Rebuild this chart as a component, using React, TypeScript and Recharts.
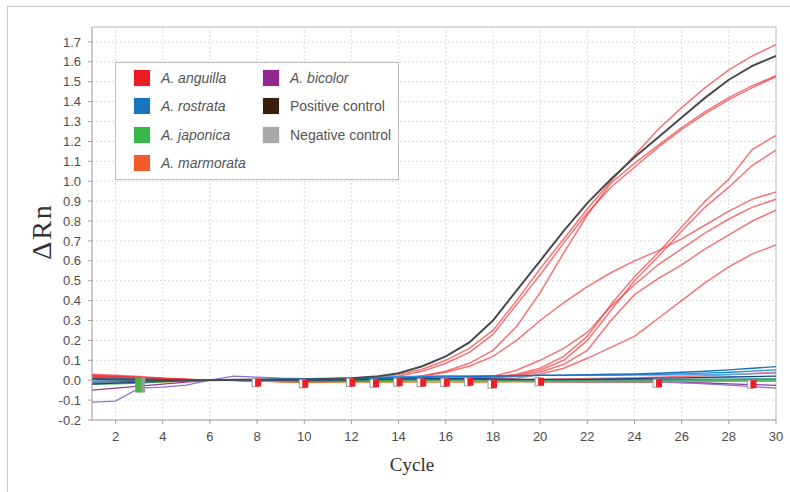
import React from 'react';
import { ComposedChart, Line, Scatter, XAxis, YAxis, CartesianGrid, ReferenceLine, Label } from 'recharts';

const cycles = [1, 2, 3, 4, 5, 6, 7, 8, 9, 10, 11, 12, 13, 14, 15, 16, 17, 18, 19, 20, 21, 22, 23, 24, 25, 26, 27, 28, 29, 30];
const xTicks = [2, 4, 6, 8, 10, 12, 14, 16, 18, 20, 22, 24, 26, 28, 30];
const yTicks = [-0.2, -0.1, 0, 0.1, 0.2, 0.3, 0.4, 0.5, 0.6, 0.7, 0.8, 0.9, 1.0, 1.1, 1.2, 1.3, 1.4, 1.5, 1.6, 1.7];
const Y_MIN = -0.2;
const Y_MAX = 1.775;

// positive control (dark curve)
const positiveControl = [
  0.006, 0.004, 0.002, 0.001, 0, 0, 0.002, 0.002, 0.003, 0.004,
  0.006, 0.01, 0.018, 0.035, 0.07, 0.12, 0.19, 0.3, 0.45, 0.6,
  0.75, 0.89, 1.01, 1.12, 1.22, 1.32, 1.42, 1.51, 1.58, 1.63,
];

// A. anguilla wells
const anguillaA = [
  0.02, 0.018, 0.012, 0.008, 0.004, 0, 0.002, 0.003, 0.004, 0.003,
  0.005, 0.008, 0.014, 0.028, 0.055, 0.1, 0.16, 0.25, 0.4, 0.56,
  0.71, 0.86, 1.0, 1.13, 1.26, 1.37, 1.47, 1.56, 1.63, 1.686,
];
const anguillaB = [
  0.03, 0.025, 0.018, 0.01, 0.005, 0, 0, -0.004, -0.006, -0.01,
  -0.006, 0, 0.008, 0.02, 0.045, 0.085, 0.14, 0.23, 0.38, 0.53,
  0.69, 0.84, 0.97, 1.07, 1.17, 1.26, 1.34, 1.41, 1.47, 1.526,
];
const anguillaC = [
  0.015, 0.012, 0.01, 0.006, 0.002, 0, 0, -0.003, -0.005, -0.008,
  -0.005, 0, 0.004, 0.01, 0.022, 0.045, 0.085, 0.15, 0.27, 0.44,
  0.64, 0.83, 0.99, 1.09, 1.18, 1.27, 1.35, 1.42, 1.48, 1.53,
];
const anguillaD = [
  0.01, 0.01, 0.008, 0.005, 0.002, 0, 0, 0, -0.003, -0.006,
  -0.005, 0, 0.004, 0.01, 0.02, 0.04, 0.07, 0.12, 0.2, 0.3,
  0.39, 0.47, 0.54, 0.6, 0.65, 0.71, 0.78, 0.85, 0.91, 0.946,
];
const anguillaE = [
  0.005, 0.005, 0.003, 0.002, 0, 0, 0, 0, -0.002, -0.005,
  -0.006, -0.004, 0, 0.002, 0.004, 0.006, 0.01, 0.016, 0.03, 0.06,
  0.12, 0.22, 0.38, 0.52, 0.64, 0.77, 0.9, 1.01, 1.16, 1.23,
];
const anguillaF = [
  0.02, 0.016, 0.012, 0.006, 0.002, 0, -0.002, -0.004, -0.006, -0.008,
  -0.006, -0.004, -0.002, 0, 0.002, 0.004, 0.008, 0.012, 0.025, 0.05,
  0.1, 0.2, 0.35, 0.5, 0.62, 0.75, 0.87, 0.97, 1.08, 1.156,
];
const anguillaG = [
  0.025, 0.02, 0.014, 0.008, 0.003, 0, 0, -0.002, -0.004, -0.006,
  -0.004, -0.002, 0, 0.002, 0.004, 0.008, 0.012, 0.02, 0.05, 0.1,
  0.16, 0.24, 0.37, 0.48, 0.58, 0.66, 0.74, 0.81, 0.87, 0.91,
];
const anguillaH = [
  0.012, 0.01, 0.008, 0.004, 0.001, 0, 0, -0.002, -0.003, -0.005,
  -0.004, -0.003, -0.002, 0, 0.002, 0.004, 0.006, 0.01, 0.02, 0.04,
  0.08, 0.15, 0.3, 0.43, 0.51, 0.58, 0.66, 0.73, 0.8, 0.855,
];
const anguillaI = [
  0.018, 0.015, 0.01, 0.005, 0.002, 0, 0, -0.002, -0.004, -0.006,
  -0.006, -0.005, -0.004, -0.003, -0.002, 0, 0.002, 0.004, 0.01, 0.03,
  0.06, 0.11, 0.165, 0.22, 0.31, 0.4, 0.49, 0.57, 0.635, 0.68,
];
const anguillaJ = [
  0.022, 0.02, 0.015, 0.01, 0.004, 0, 0, -0.002, -0.004, -0.006,
  -0.006, -0.005, -0.004, -0.004, -0.003, -0.002, 0, 0, 0.002, 0.004,
  0.006, 0.008, 0.01, 0.012, 0.015, 0.018, 0.022, 0.028, 0.034, 0.04,
];

// non-target species and negative control (baseline)
const rostrata1 = [
  -0.01, -0.008, -0.005, -0.003, 0, 0, 0, 0.002, 0.004, 0.005,
  0.006, 0.008, 0.01, 0.012, 0.014, 0.016, 0.018, 0.02, 0.022, 0.024,
  0.026, 0.028, 0.03, 0.032, 0.035, 0.04, 0.045, 0.052, 0.06, 0.068,
];
const rostrata2 = [
  0.01, 0.008, 0.005, 0.003, 0.001, 0, 0, 0.003, 0.005, 0.006,
  0.006, 0.008, 0.012, 0.016, 0.018, 0.02, 0.02, 0.022, 0.022, 0.024,
  0.024, 0.026, 0.026, 0.028, 0.03, 0.032, 0.036, 0.04, 0.046, 0.052,
];
const rostrata3 = [
  0, 0, 0, 0, 0, 0, 0.002, 0.004, 0.006, 0.008,
  0.01, 0.012, 0.015, 0.018, 0.02, 0.021, 0.022, 0.022, 0.023, 0.024,
  0.024, 0.025, 0.025, 0.026, 0.026, 0.027, 0.028, 0.03, 0.032, 0.035,
];
const rostrata4 = [
  -0.02, -0.015, -0.01, -0.006, -0.002, 0, 0, 0, 0, 0,
  0, 0.002, 0.004, 0.006, 0.008, 0.008, 0.008, 0.006, 0.004, 0.004,
  0.004, 0.004, 0.006, 0.008, 0.01, 0.012, 0.014, 0.016, 0.018, 0.02,
];
const japonica1 = [
  -0.02, -0.018, -0.014, -0.008, -0.003, 0, 0, 0, 0, -0.002,
  -0.002, -0.002, -0.002, 0, 0, 0, 0, 0, 0, 0,
  0, 0, 0, 0, 0, 0, 0, 0, 0, 0,
];
const japonica2 = [
  0.005, 0.004, 0.003, 0.002, 0, 0, 0, 0.002, 0.003, 0.004,
  0.005, 0.005, 0.006, 0.006, 0.005, 0.004, 0.004, 0.003, 0.002, 0.002,
  0.002, 0.002, 0.002, 0.003, 0.003, 0.004, 0.005, 0.005, 0.006, 0.006,
];
const marmorata = [
  -0.015, -0.014, -0.012, -0.008, -0.004, 0, 0, -0.004, -0.008, -0.01,
  -0.01, -0.01, -0.01, -0.01, -0.01, -0.01, -0.01, -0.01, -0.008, -0.008,
  -0.008, -0.008, -0.008, -0.008, -0.008, -0.006, -0.006, -0.006, -0.006, -0.006,
];
const bicolor1 = [
  -0.11, -0.105, -0.04, -0.035, -0.025, 0, 0.02, 0.015, 0.01, 0.008,
  0.005, 0.004, 0.003, 0.002, 0, -0.002, -0.004, -0.005, -0.006, -0.008,
  -0.01, -0.01, -0.01, -0.008, -0.01, -0.012, -0.018, -0.025, -0.032, -0.04,
];
const bicolor2 = [
  -0.05, -0.04, -0.03, -0.02, -0.01, 0, 0, 0, -0.002, -0.004,
  -0.004, -0.004, -0.004, -0.002, 0, 0, 0, 0, -0.002, -0.004,
  -0.006, -0.008, -0.008, -0.008, -0.01, -0.012, -0.014, -0.018, -0.022, -0.026,
];
const negativeControl = [
  -0.005, -0.004, -0.003, -0.002, 0, 0, 0, 0, 0, 0,
  0, 0, 0, 0, 0, 0, 0, 0, 0, 0,
  0, 0, 0, 0, 0, -0.002, -0.002, -0.003, -0.004, -0.005,
];

// threshold-crossing markers drawn by the instrument software
const redMarks = [
  { cycle: 8, v: -0.012 }, { cycle: 10, v: -0.018 }, { cycle: 12, v: -0.012 },
  { cycle: 13, v: -0.015 }, { cycle: 14, v: -0.01 }, { cycle: 15, v: -0.012 },
  { cycle: 16, v: -0.012 }, { cycle: 17, v: -0.008 }, { cycle: 18, v: -0.02 },
  { cycle: 20, v: -0.008 }, { cycle: 25, v: -0.015 }, { cycle: 29, v: -0.02 },
];
const greenMarks = [{ cycle: 3, v: -0.022 }];

const RED = '#ee3a3e';
const baseline = [
  { key: 'bicolor2', values: bicolor2, color: '#8b3a9e' },
  { key: 'bicolor1', values: bicolor1, color: '#8f6fd0' },
  { key: 'marmorata', values: marmorata, color: '#f07a2a' },
  { key: 'negativeControl', values: negativeControl, color: '#a7a9ac' },
  { key: 'japonica1', values: japonica1, color: '#3bb44a' },
  { key: 'japonica2', values: japonica2, color: '#1f8f7a' },
  { key: 'rostrata4', values: rostrata4, color: '#1d3f8a' },
  { key: 'rostrata3', values: rostrata3, color: '#56b0e8' },
  { key: 'rostrata2', values: rostrata2, color: '#2a8ad6' },
  { key: 'rostrata1', values: rostrata1, color: '#1a70c0' },
];
const anguilla = [
  { key: 'anguillaA', values: anguillaA },
  { key: 'anguillaB', values: anguillaB },
  { key: 'anguillaC', values: anguillaC },
  { key: 'anguillaD', values: anguillaD },
  { key: 'anguillaE', values: anguillaE },
  { key: 'anguillaF', values: anguillaF },
  { key: 'anguillaG', values: anguillaG },
  { key: 'anguillaH', values: anguillaH },
  { key: 'anguillaI', values: anguillaI },
  { key: 'anguillaJ', values: anguillaJ },
];

const legendItems = [
  { label: 'A. anguilla', color: '#ed1c24', italic: true },
  { label: 'A. rostrata', color: '#1b75bc', italic: true },
  { label: 'A. japonica', color: '#39b54a', italic: true },
  { label: 'A. marmorata', color: '#f15a29', italic: true },
  { label: 'A. bicolor', color: '#92278f', italic: true },
  { label: 'Positive control', color: '#3c1e0f', italic: false },
  { label: 'Negative control', color: '#a7a9ac', italic: false },
];

const rows = cycles.map((c, i) => {
  const row: Record<string, number> = { cycle: c, positiveControl: positiveControl[i] };
  [...baseline, ...anguilla].forEach((s) => {
    row[s.key] = s.values[i];
  });
  return row;
});

const font = '"Liberation Sans", Arial, sans-serif';
const serif = '"Liberation Serif", "Times New Roman", serif';

const RedMark = (props: any) => {
  const { cx, cy } = props;
  return (
    <g>
      <rect x={cx - 5} y={cy - 4} width={6} height={8} fill="#fff" stroke="#9a9a9a" strokeWidth={1} />
      <rect x={cx - 2} y={cy - 4} width={6} height={8} fill="#ee1c24" />
    </g>
  );
};

const GreenMark = (props: any) => {
  const { cx, cy } = props;
  return (
    <g>
      <rect x={cx + 1} y={cy - 7} width={5} height={15} fill="#9a9a9a" />
      <rect x={cx - 4} y={cy - 7} width={6} height={15} fill="#46b649" />
    </g>
  );
};

function Legend() {
  return (
    <div
      style={{
        position: 'absolute',
        left: 115,
        top: 62,
        width: 282,
        height: 116,
        border: '1.5px solid #bdbdbd',
        background: '#fff',
        fontFamily: font,
        fontSize: 14,
        color: '#555',
      }}
    >
      {legendItems.map((it, i) => {
        const col = i < 4 ? 0 : 1;
        const row = i < 4 ? i : i - 4;
        return (
          <div
            key={it.label}
            style={{
              position: 'absolute',
              left: col === 0 ? 18 : 147,
              top: 7 + row * 28.3,
              display: 'flex',
              alignItems: 'center',
              whiteSpace: 'nowrap',
            }}
          >
            <span
              style={{
                display: 'inline-block',
                width: 16,
                height: 16,
                background: it.color,
                boxShadow: '0 0 1px rgba(0,0,0,0.3)',
                marginRight: 11,
              }}
            />
            <span style={{ fontStyle: it.italic ? 'italic' : 'normal' }}>{it.label}</span>
          </div>
        );
      })}
    </div>
  );
}

export default function App() {
  return (
    <div style={{ position: 'absolute', left: 0, top: 0, width: 790, height: 492, background: '#fff', overflow: 'hidden' }}>
      <div
        style={{
          position: 'absolute',
          left: 7,
          top: 6,
          width: 790,
          height: 492,
          borderTop: '1.5px solid #c8c8c0',
          borderLeft: '1.5px solid #c8c8c0',
        }}
      />
      <ComposedChart width={790} height={492} data={rows} margin={{ top: 27, right: 14, bottom: 42, left: 42 }}>
        <CartesianGrid stroke="#d0d0d0" strokeDasharray="1.5 2.5" />
        <XAxis
          dataKey="cycle"
          type="number"
          domain={[1, 30]}
          ticks={xTicks}
          interval={0}
          allowDataOverflow
          height={30}
          stroke="#a0a0a0"
          tickSize={4}
          tickMargin={8}
          tick={{ fill: '#4d4d4d', fontSize: 13, fontFamily: font }}
        >
          <Label
            content={({ viewBox }: any) => (
              <text
                x={viewBox.x + viewBox.width / 2 - 22}
                y={viewBox.y + 51}
                textAnchor="middle"
                fontFamily={serif}
                fontSize={19}
                fill="#333"
              >
                Cycle
              </text>
            )}
          />
        </XAxis>
        <YAxis
          type="number"
          domain={[Y_MIN, Y_MAX]}
          ticks={yTicks}
          interval={0}
          allowDataOverflow
          width={50}
          stroke="#a0a0a0"
          tickSize={4}
          tickMargin={7}
          tickFormatter={(v: number) => v.toFixed(1)}
          tick={{ fill: '#4d4d4d', fontSize: 13, fontFamily: font }}
        >
          <Label
            content={({ viewBox }: any) => {
              const x = viewBox.x + 9;
              const y = viewBox.y + viewBox.height / 2 + 8;
              return (
                <text
                  x={x}
                  y={y}
                  transform={`rotate(-90 ${x} ${y})`}
                  textAnchor="middle"
                  fontFamily={serif}
                  fontSize={28}
                  letterSpacing={2}
                  fill="#333"
                >
                  ΔRn
                </text>
              );
            }}
          />
        </YAxis>
        <ReferenceLine y={Y_MAX} stroke="#dcdcdc" strokeWidth={2} />
        <ReferenceLine x={30} stroke="#dcdcdc" strokeWidth={2} />
        {anguilla.map((s) => (
          <Line
            key={s.key}
            dataKey={s.key}
            type="linear"
            stroke={RED}
            strokeOpacity={0.7}
            strokeWidth={1.5}
            dot={false}
            isAnimationActive={false}
          />
        ))}
        {baseline.map((s) => (
          <Line
            key={s.key}
            dataKey={s.key}
            type="linear"
            stroke={s.color}
            strokeWidth={1.3}
            dot={false}
            isAnimationActive={false}
          />
        ))}
        <Line
          dataKey="positiveControl"
          type="linear"
          stroke="#4a4a4a"
          strokeWidth={2}
          dot={false}
          isAnimationActive={false}
        />
        <Scatter data={redMarks} dataKey="v" shape={RedMark} isAnimationActive={false} />
        <Scatter data={greenMarks} dataKey="v" shape={GreenMark} isAnimationActive={false} />
      </ComposedChart>
      <Legend />
    </div>
  );
}
